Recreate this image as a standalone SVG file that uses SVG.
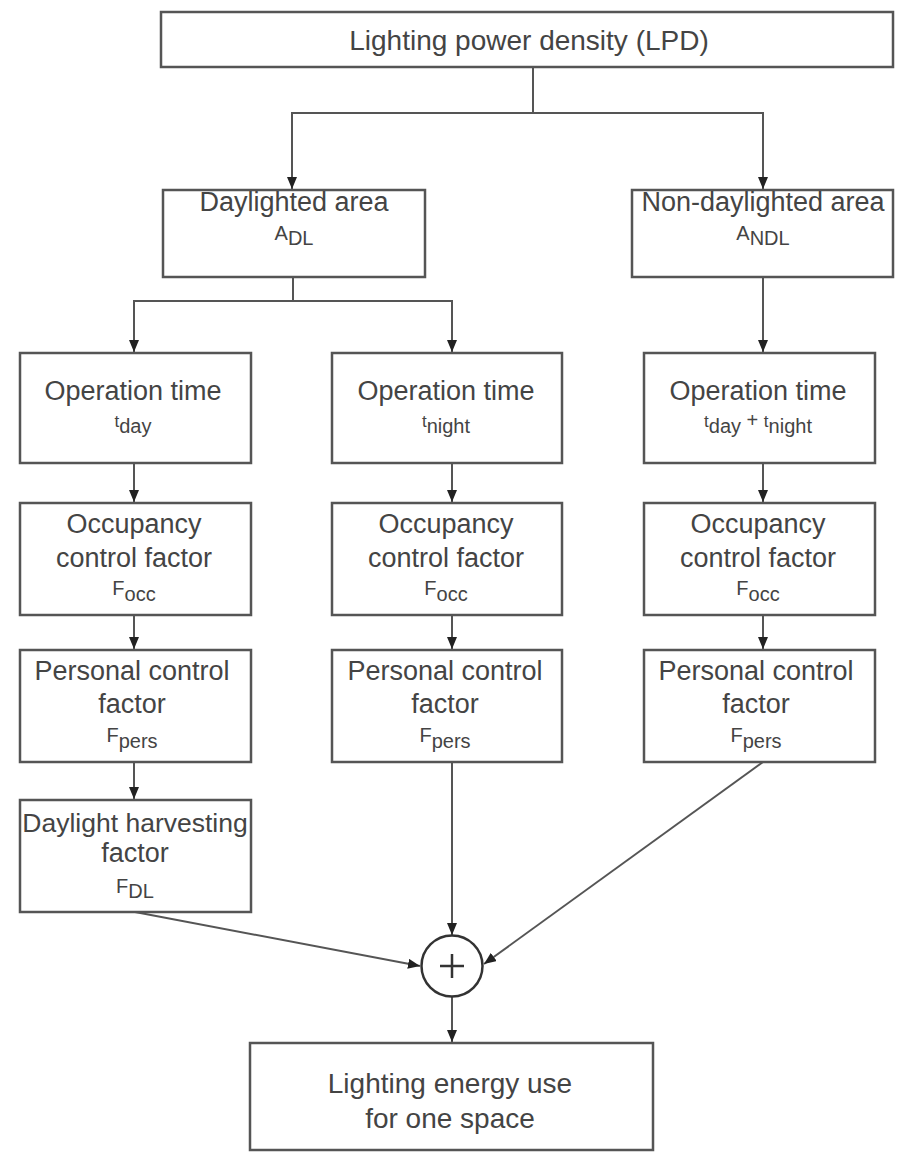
<svg xmlns="http://www.w3.org/2000/svg" width="900" height="1154" viewBox="0 0 900 1154">
<defs>
<marker id="arr" markerWidth="12" markerHeight="10" refX="12" refY="5" orient="auto" markerUnits="userSpaceOnUse">
<path d="M0,0 L12,5 L0,10 Z" fill="#222"/>
</marker>
<style>
.box{fill:#fff;stroke:#555;stroke-width:2.5}
.t{font-family:"Liberation Sans",Arial,sans-serif;font-size:27px;fill:#444;text-anchor:middle}
.s{font-size:20px}
.c{fill:none;stroke:#555;stroke-width:2}
</style>
</defs>
<rect width="900" height="1154" fill="#fff"/>
<g id="connectors">
<path class="c" d="M533,67 V113 H292 V189" marker-end="url(#arr)"/>
<path class="c" d="M533,113 H763 V189" marker-end="url(#arr)"/>
<path class="c" d="M293,277 V301 H134 V352" marker-end="url(#arr)"/>
<path class="c" d="M293,301 H452 V352" marker-end="url(#arr)"/>
<path class="c" d="M763,277 V352" marker-end="url(#arr)"/>
<path class="c" d="M134,463 V502" marker-end="url(#arr)"/>
<path class="c" d="M452,463 V502" marker-end="url(#arr)"/>
<path class="c" d="M763,463 V502" marker-end="url(#arr)"/>
<path class="c" d="M134,615 V649" marker-end="url(#arr)"/>
<path class="c" d="M452,615 V649" marker-end="url(#arr)"/>
<path class="c" d="M763,615 V649" marker-end="url(#arr)"/>
<path class="c" d="M134,762 V799" marker-end="url(#arr)"/>
<path class="c" d="M452,762 V935" marker-end="url(#arr)"/>
<path class="c" d="M135,912 L420,966" marker-end="url(#arr)"/>
<path class="c" d="M763,762 L484,964" marker-end="url(#arr)"/>
<path class="c" d="M452,997 V1042" marker-end="url(#arr)"/>
</g>
<g id="lpd">
<rect class="box" x="161" y="12" width="732" height="55"/>
<text class="t" x="529" y="50" style="font-size:28px">Lighting power density (LPD)</text>
</g>
<g id="daylighted">
<rect class="box" x="163" y="190" width="262" height="87"/>
<text class="t" x="294" y="211">Daylighted area</text>
<text class="t" x="294" y="240"><tspan class="s">A</tspan><tspan class="s" dy="5">DL</tspan></text>
</g>
<g id="nondaylighted">
<rect class="box" x="632" y="190" width="261" height="87"/>
<text class="t" x="763" y="211">Non-daylighted area</text>
<text class="t" x="763" y="240"><tspan class="s">A</tspan><tspan class="s" dy="5">NDL</tspan></text>
</g>
<g id="op-day">
<rect class="box" x="20" y="353" width="231" height="110"/>
<text class="t" x="133" y="400">Operation time</text>
<text class="t" x="133" y="427"><tspan style="font-size:17px">t</tspan><tspan class="s" dy="6">day</tspan></text>
</g>
<g id="op-night">
<rect class="box" x="332" y="353" width="230" height="110"/>
<text class="t" x="446" y="400">Operation time</text>
<text class="t" x="446" y="427"><tspan style="font-size:17px">t</tspan><tspan class="s" dy="6">night</tspan></text>
</g>
<g id="op-all">
<rect class="box" x="644" y="353" width="231" height="110"/>
<text class="t" x="758" y="400">Operation time</text>
<text class="t" x="758" y="427"><tspan style="font-size:17px">t</tspan><tspan class="s" dy="6">day</tspan><tspan class="s" dy="-6"> + </tspan><tspan style="font-size:17px">t</tspan><tspan class="s" dy="6">night</tspan></text>
</g>
<g id="occ-day">
<rect class="box" x="20" y="503" width="231" height="112"/>
<text class="t" x="134" y="533">Occupancy</text>
<text class="t" x="134" y="567">control factor</text>
<text class="t" x="134" y="595"><tspan class="s">F</tspan><tspan class="s" dy="6">occ</tspan></text>
</g>
<g id="occ-night">
<rect class="box" x="332" y="503" width="230" height="112"/>
<text class="t" x="446" y="533">Occupancy</text>
<text class="t" x="446" y="567">control factor</text>
<text class="t" x="446" y="595"><tspan class="s">F</tspan><tspan class="s" dy="6">occ</tspan></text>
</g>
<g id="occ-all">
<rect class="box" x="644" y="503" width="231" height="112"/>
<text class="t" x="758" y="533">Occupancy</text>
<text class="t" x="758" y="567">control factor</text>
<text class="t" x="758" y="595"><tspan class="s">F</tspan><tspan class="s" dy="6">occ</tspan></text>
</g>
<g id="pers-day">
<rect class="box" x="20" y="650" width="231" height="112"/>
<text class="t" x="132" y="680">Personal control</text>
<text class="t" x="132" y="713">factor</text>
<text class="t" x="132" y="742"><tspan class="s">F</tspan><tspan class="s" dy="6">pers</tspan></text>
</g>
<g id="pers-night">
<rect class="box" x="332" y="650" width="230" height="112"/>
<text class="t" x="445" y="680">Personal control</text>
<text class="t" x="445" y="713">factor</text>
<text class="t" x="445" y="742"><tspan class="s">F</tspan><tspan class="s" dy="6">pers</tspan></text>
</g>
<g id="pers-all">
<rect class="box" x="644" y="650" width="231" height="112"/>
<text class="t" x="756" y="680">Personal control</text>
<text class="t" x="756" y="713">factor</text>
<text class="t" x="756" y="742"><tspan class="s">F</tspan><tspan class="s" dy="6">pers</tspan></text>
</g>
<g id="daylight-harvest">
<rect class="box" x="20" y="800" width="231" height="112"/>
<text class="t" x="135" y="832" style="font-size:26.5px">Daylight harvesting</text>
<text class="t" x="135" y="862">factor</text>
<text class="t" x="135" y="893"><tspan class="s">F</tspan><tspan class="s" dy="5">DL</tspan></text>
</g>
<g id="sum">
<circle cx="452" cy="966" r="30.5" fill="#fff" stroke="#333" stroke-width="2.5"/>
<path d="M440,966 H464 M452,954 V978" stroke="#333" stroke-width="2.5" fill="none"/>
</g>
<g id="energy">
<rect class="box" x="250" y="1043" width="403" height="107"/>
<text class="t" x="450" y="1093" style="font-size:28px">Lighting energy use</text>
<text class="t" x="450" y="1128" style="font-size:28px">for one space</text>
</g>
</svg>
